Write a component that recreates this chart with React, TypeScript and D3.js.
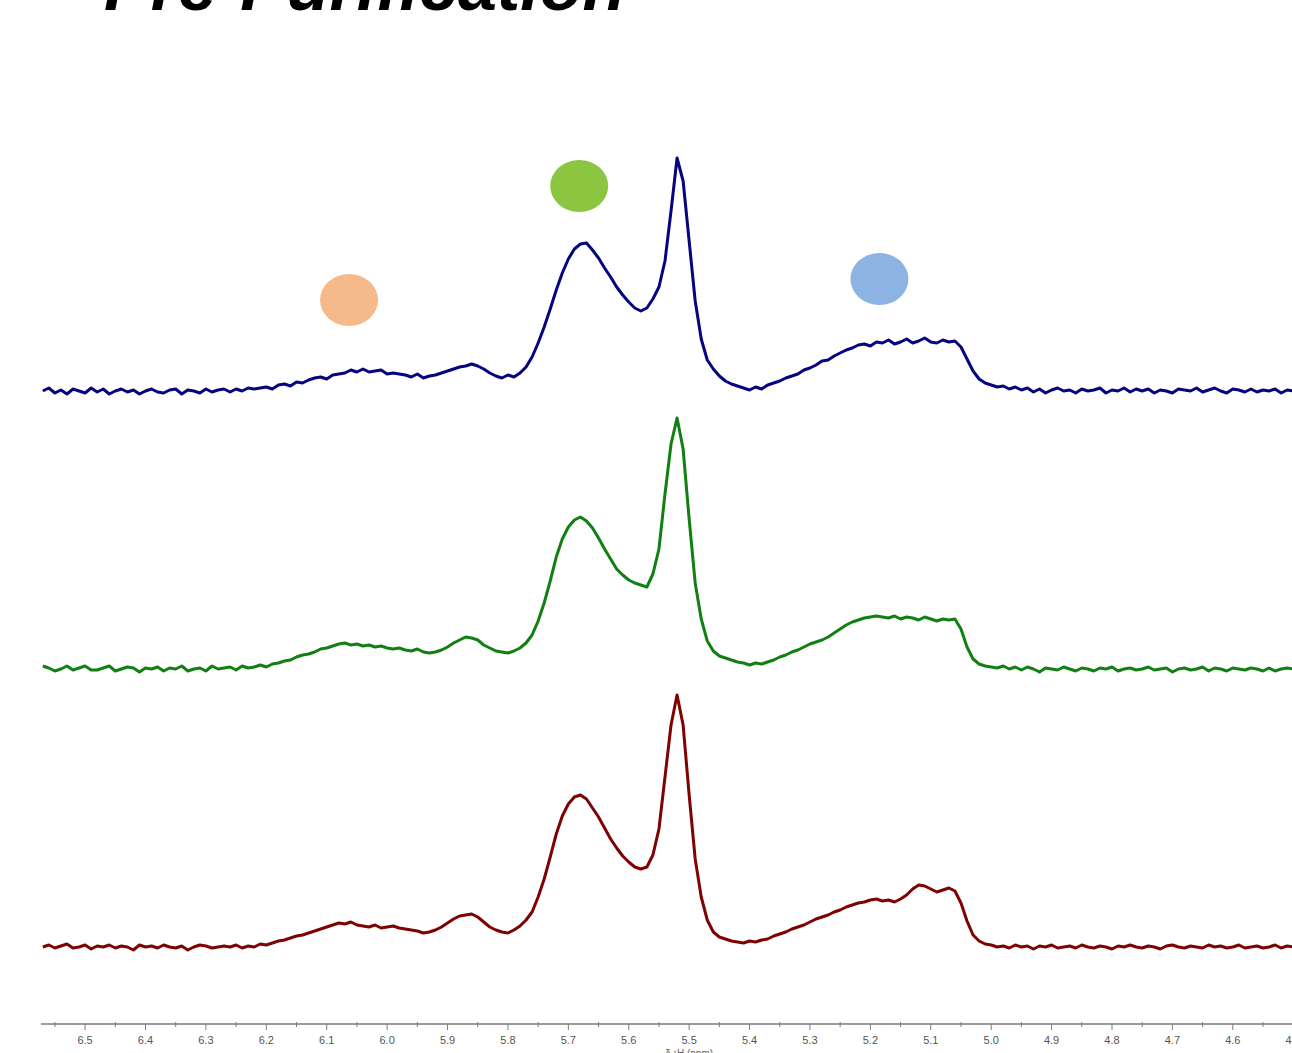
import React from 'react';
import * as d3 from 'd3';

// Chemical shift grid of the spectra (ppm), first point and spacing
const PPM_START = 6.57;
const PPM_STEP = 0.01;

// Intensities (arbitrary units, baseline = 0), from 6.57 ppm down to 4.50 ppm
const navySpectrum = [
  0, 3, -2, 1, -3, 2, 0, -2, 3, -1,
  2, -3, 0, 2, -1, 1, -3, 0, 2, -1,
  -2, 1, 2, -3, 1, 0, -2, 2, -1, 1,
  2, -1, 2, 0, 3, 2, 3, 4, 2, 6,
  7, 5, 9, 8, 11, 13, 14, 12, 16, 17,
  18, 21, 19, 22, 19, 20, 21, 17, 18, 17,
  16, 14, 17, 13, 15, 16, 18, 20, 22, 24,
  25, 27, 25, 22, 18, 15, 13, 16, 14, 18,
  24, 34, 48, 64, 82, 101, 118, 132, 142, 147,
  148, 141, 133, 123, 114, 104, 96, 89, 83, 80,
  83, 92, 104, 130, 180, 233, 210, 150, 90, 52,
  31, 22, 15, 10, 7, 5, 3, 1, 4, 2,
  6, 8, 10, 13, 15, 17, 21, 23, 26, 30,
  31, 35, 38, 41, 43, 46, 47, 45, 49, 48,
  51, 47, 49, 52, 48, 50, 53, 49, 48, 51,
  49, 50, 44, 32, 20, 12, 8, 6, 4, 5,
  2, 4, 1, 3, -1, 2, -2, 1, 3, 0,
  1, -2, 2, 0, 1, 3, -2, 1, 0, 3,
  -1, 2, 0, 2, -2, 1, 0, -2, 2, 1,
  0, 3, -1, 1, 3, 0, -2, 2, 1, -1,
  2, -1, 1, 0, 2, -2, 1, 0,
];

const greenSpectrum = [
  3, 1, -2, 0, 3, -1, 1, 3, -1, -1,
  1, 3, -2, 0, 2, 1, -3, 1, 0, 2,
  -2, 1, 0, 3, -2, 0, 1, -2, 3, 0,
  1, 2, -1, 3, 1, 2, 4, 2, 5, 6,
  8, 9, 12, 14, 15, 17, 20, 21, 23, 25,
  26, 24, 25, 23, 24, 22, 23, 21, 20, 21,
  19, 18, 20, 17, 16, 17, 19, 22, 26, 29,
  32, 31, 29, 24, 21, 18, 17, 16, 18, 21,
  26, 34, 48, 66, 88, 112, 130, 142, 149, 152,
  148, 141, 131, 120, 110, 100, 94, 89, 86, 84,
  82, 95, 120, 175, 225, 251, 220, 150, 86, 50,
  28, 18, 13, 11, 9, 7, 6, 4, 6, 5,
  7, 9, 12, 14, 17, 19, 22, 25, 27, 29,
  32, 36, 40, 44, 47, 49, 51, 52, 53, 52,
  51, 53, 50, 52, 51, 49, 52, 50, 48, 50,
  49, 50, 40, 22, 10, 5, 3, 2, 1, 3,
  0, 2, -1, 2, 0, -3, 1, 0, -1, 2,
  0, -2, 1, 0, -2, 1, 0, 2, -2, 0,
  1, -1, 0, 2, -1, 0, 1, -3, 0, 1,
  -1, 0, 2, -2, 1, 0, -2, 1, 0, -1,
  1, 0, -2, 1, -2, 0, 1, 0,
];

const redSpectrum = [
  0, 2, -1, 1, 3, -1, 0, 2, -2, 1,
  0, 2, -1, 1, 0, -3, 2, 0, 1, -1,
  2, 0, -1, 1, -3, 0, 2, 1, -1, 0,
  1, 0, 2, -1, 1, 0, 3, 2, 4, 6,
  7, 9, 11, 12, 14, 16, 18, 20, 22, 24,
  23, 25, 22, 21, 20, 22, 19, 20, 21, 19,
  18, 17, 16, 14, 15, 17, 20, 24, 28, 31,
  32, 33, 30, 25, 20, 17, 15, 14, 17, 21,
  27, 35, 50, 68, 90, 113, 131, 143, 150, 152,
  148, 139, 130, 119, 108, 99, 91, 85, 80, 78,
  80, 92, 118, 170, 222, 252, 222, 152, 88, 50,
  27, 15, 10, 8, 6, 5, 4, 6, 5, 7,
  8, 11, 13, 15, 18, 20, 22, 25, 28, 30,
  32, 35, 37, 40, 42, 44, 45, 47, 48, 46,
  47, 45, 48, 52, 58, 62, 61, 58, 55, 57,
  59, 56, 44, 26, 12, 6, 3, 2, 0, 1,
  -1, 2, 0, 1, -2, 1, 0, 2, -1, 0,
  1, -1, 2, 0, -1, 1, 0, -2, 1, 0,
  2, 0, -1, 1, 0, -2, 1, 2, 0, -1,
  1, 0, -1, 2, 0, 1, -1, 0, 2, -1,
  0, 1, -1, 0, 2, -1, 1, 0,
];

const majorTicks = [6.5, 6.4, 6.3, 6.2, 6.1, 6.0, 5.9, 5.8, 5.7, 5.6, 5.5, 5.4, 5.3, 5.2, 5.1, 5.0, 4.9, 4.8, 4.7, 4.6, 4.5];
const minorTicks = [6.55, 6.45, 6.35, 6.25, 6.15, 6.05, 5.95, 5.85, 5.75, 5.65, 5.55, 5.45, 5.35, 5.25, 5.15, 5.05, 4.95, 4.85, 4.75, 4.65, 4.55];

// Region markers: [ppm, height above top trace baseline, colour]
const markerPpm = [6.063, 5.682, 5.185];
const markerHeight = [91, 205, 112];
const markerColors = ['#F6BA8A', '#8CC540', '#8DB3E2'];

const W = 1292;
const H = 1053;

export default function App() {
  const x = d3.scaleLinear().domain([6.573, 4.502]).range([41, 1292]);
  const ppm = navySpectrum.map((_, i) => PPM_START - i * PPM_STEP);

  const traces = [
    { data: navySpectrum, base: 391, color: '#050580' },
    { data: greenSpectrum, base: 669, color: '#127F12' },
    { data: redSpectrum, base: 947, color: '#7E0202' },
  ];

  const makeY = (base: number) => d3.scaleLinear().domain([0, 260]).range([base, base - 260]);
  const yTop = makeY(391);

  const axisY = 1024;

  return (
    <svg
      width={W}
      height={H}
      style={{ position: 'absolute', left: 0, top: 0, background: '#fff' }}
      fontFamily="'Liberation Sans', Arial, sans-serif"
    >
      <rect x={0} y={0} width={W} height={H} fill="#fff" />
      <text x={104} y={10} fontSize={70} fontWeight="bold" fontStyle="italic" fill="#000">
        Pre-Purification
      </text>

      {traces.map((t, k) => {
        const y = makeY(t.base);
        const line = d3
          .line<number>()
          .x((_, i) => x(ppm[i]))
          .y((d) => y(d))
          .curve(d3.curveLinear);
        return (
          <path
            key={k}
            d={line(t.data) || ''}
            fill="none"
            stroke={t.color}
            strokeWidth={3}
            strokeLinejoin="round"
          />
        );
      })}

      {markerPpm.map((p, i) => (
        <ellipse key={i} cx={x(p)} cy={yTop(markerHeight[i])} rx={29} ry={26} fill={markerColors[i]} />
      ))}

      <g>
        <line x1={41} x2={W} y1={axisY} y2={axisY} stroke="#7a7a7a" strokeWidth={1.6} />
        {minorTicks.map((t) => (
          <line key={'m' + t} x1={x(t)} x2={x(t)} y1={axisY - 2} y2={axisY + 3} stroke="#7a7a7a" strokeWidth={1} />
        ))}
        {majorTicks.map((t) => (
          <g key={'M' + t}>
            <line x1={x(t)} x2={x(t)} y1={axisY} y2={axisY + 6} stroke="#7a7a7a" strokeWidth={1} />
            <text
              x={x(t)}
              y={axisY + 20}
              textAnchor="middle"
              fontSize={11}
              fill="#555"
              fontFamily="'Liberation Sans Narrow', 'Liberation Sans', Arial, sans-serif"
            >
              {d3.format('.1f')(t)}
            </text>
          </g>
        ))}
        <text x={x(5.5)} y={axisY + 33} textAnchor="middle" fontSize={10} fill="#666">
          δ ¹H (ppm)
        </text>
      </g>
    </svg>
  );
}
